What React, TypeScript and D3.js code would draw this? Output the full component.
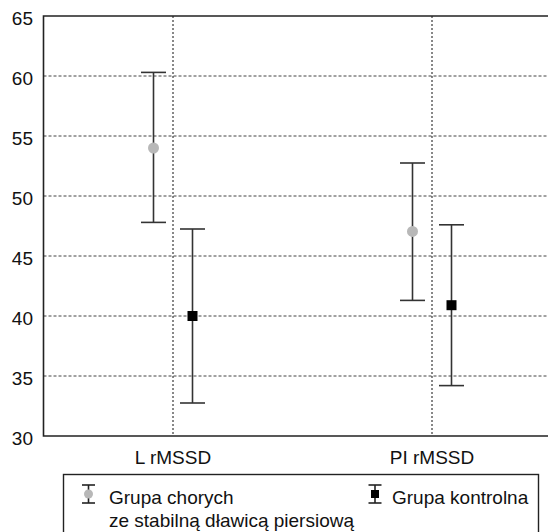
import { useEffect, useRef } from "react";
import * as d3 from "d3";

const categories = ["L rMSSD", "PI rMSSD"];
const groups = ["Grupa chorych", "Grupa kontrolna"];
// mean, lower, upper per category
const choryMean = [54, 47.05];
const choryLow = [47.8, 41.3];
const choryHigh = [60.3, 52.75];
const kontrolMean = [40, 40.9];
const kontrolLow = [32.75, 34.2];
const kontrolHigh = [47.25, 47.6];
const yTicks = [30, 35, 40, 45, 50, 55, 60, 65];

const W = 548;
const H = 532;
const FONT = "'Liberation Sans', Arial, sans-serif";

export default function App() {
  const ref = useRef<SVGSVGElement | null>(null);

  useEffect(() => {
    if (!ref.current) return;
    const svg = d3.select(ref.current);
    svg.selectAll("*").remove();

    const left = 43.5;
    const top = 16;
    const bottom = 436;

    const y = d3.scaleLinear().domain([30, 65]).range([bottom, top]);
    const x = d3.scaleBand<string>().domain(categories).range([left, 561.5]).padding(0);
    const inner = d3.scalePoint<string>().domain(groups).range([-19.5, 19.5]);
    const cx = (c: string) => (x(c) ?? 0) + x.bandwidth() / 2;

    // grid
    svg.append("g")
      .selectAll("line")
      .data(yTicks.filter((t) => t > 30 && t < 65))
      .enter()
      .append("line")
      .attr("x1", left)
      .attr("x2", W)
      .attr("y1", (d) => y(d))
      .attr("y2", (d) => y(d))
      .attr("stroke", "#444")
      .attr("stroke-width", 1)
      .attr("stroke-dasharray", "3,2");

    svg.append("g")
      .selectAll("line")
      .data(categories)
      .enter()
      .append("line")
      .attr("x1", (d) => cx(d))
      .attr("x2", (d) => cx(d))
      .attr("y1", top)
      .attr("y2", bottom)
      .attr("stroke", "#111")
      .attr("stroke-width", 1)
      .attr("stroke-dasharray", "2,2");

    // frame
    svg.append("path")
      .attr("d", `M${W},${top}H${left}V${bottom}H${W}`)
      .attr("fill", "none")
      .attr("stroke", "#222")
      .attr("stroke-width", 1.6);

    // y labels
    svg.append("g")
      .selectAll("text")
      .data(yTicks)
      .enter()
      .append("text")
      .attr("x", 33)
      .attr("y", (d) => y(d) + 2)
      .attr("dy", "0.35em")
      .attr("text-anchor", "end")
      .attr("font-family", FONT)
      .attr("font-size", 19)
      .attr("fill", "#111")
      .text((d) => d);

    // x labels
    svg.append("g")
      .selectAll("text")
      .data(categories)
      .enter()
      .append("text")
      .attr("x", (d) => cx(d))
      .attr("y", 464)
      .attr("text-anchor", "middle")
      .attr("font-family", FONT)
      .attr("font-size", 19)
      .attr("fill", "#111")
      .text((d) => d);

    const series = [
      { g: groups[0], mean: choryMean, low: choryLow, high: choryHigh },
      { g: groups[1], mean: kontrolMean, low: kontrolLow, high: kontrolHigh },
    ];

    const capW = 12.5;
    series.forEach((s) => {
      const gg = svg.append("g");
      categories.forEach((c, i) => {
        const px = cx(c) + (inner(s.g) ?? 0);
        gg.append("line")
          .attr("x1", px).attr("x2", px)
          .attr("y1", y(s.low[i])).attr("y2", y(s.high[i]))
          .attr("stroke", "#333").attr("stroke-width", 1.6);
        [s.low[i], s.high[i]].forEach((v) => {
          gg.append("line")
            .attr("x1", px - capW).attr("x2", px + capW)
            .attr("y1", y(v)).attr("y2", y(v))
            .attr("stroke", "#333").attr("stroke-width", 1.6);
        });
        if (s.g === groups[0]) {
          gg.append("circle")
            .attr("cx", px).attr("cy", y(s.mean[i])).attr("r", 5.5)
            .attr("fill", "#b8b8b8");
        } else {
          gg.append("rect")
            .attr("x", px - 5).attr("y", y(s.mean[i]) - 5)
            .attr("width", 10).attr("height", 10)
            .attr("fill", "#000");
        }
      });
    });

    // legend
    const lg = svg.append("g");
    lg.append("rect")
      .attr("x", 63.5).attr("y", 474.5)
      .attr("width", 475).attr("height", 80)
      .attr("fill", "white").attr("stroke", "#222").attr("stroke-width", 1.4);

    const icon = (ix: number, kind: number) => {
      const g = lg.append("g");
      g.append("line").attr("x1", ix).attr("x2", ix).attr("y1", 485).attr("y2", 503)
        .attr("stroke", "#222").attr("stroke-width", 1.6);
      [485, 503].forEach((yy) =>
        g.append("line").attr("x1", ix - 6.5).attr("x2", ix + 6.5).attr("y1", yy).attr("y2", yy)
          .attr("stroke", "#222").attr("stroke-width", 1.6));
      if (kind === 0) {
        g.append("circle").attr("cx", ix).attr("cy", 494).attr("r", 4.5).attr("fill", "#b8b8b8");
      } else {
        g.append("rect").attr("x", ix - 4).attr("y", 490).attr("width", 8).attr("height", 8).attr("fill", "#000");
      }
    };
    icon(88.5, 0);
    icon(375, 1);

    lg.append("text")
      .attr("x", 109).attr("y", 504)
      .attr("font-family", FONT).attr("font-size", 19).attr("fill", "#111")
      .text("Grupa chorych");
    lg.append("text")
      .attr("x", 109).attr("y", 527)
      .attr("font-family", FONT).attr("font-size", 19).attr("fill", "#111")
      .text("ze stabilną dławicą piersiową");
    lg.append("text")
      .attr("x", 392).attr("y", 504)
      .attr("font-family", FONT).attr("font-size", 19).attr("fill", "#111")
      .text("Grupa kontrolna");
  }, []);

  return (
    <div style={{ position: "absolute", left: 0, top: 0 }}>
      <svg ref={ref} width={W} height={H} style={{ display: "block", background: "white" }} />
    </div>
  );
}
